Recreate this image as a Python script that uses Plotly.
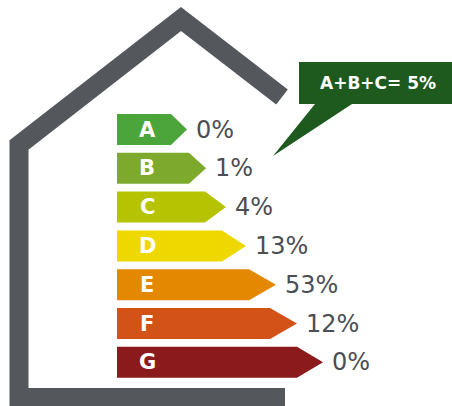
import plotly.graph_objects as go

# ---- data ----
categories = ["A", "B", "C", "D", "E", "F", "G"]
shares = [0, 1, 4, 13, 53, 12, 0]          # percent of dwellings per class
combined_classes = ["A", "B", "C"]

# ---- styling / layout ----
colors = ["#4ba53a", "#7daa2d", "#b5c300", "#efd800", "#e38800", "#d35217", "#8a1a1b"]
arrow_tip_x = [187, 206, 226, 246, 276, 297, 323]
arrow_depth = [16, 17, 21, 24, 27, 27, 26]
W, H = 452, 406
x0 = 117
y_first, step, half_h = 129.5, 38.8, 15.5
house_gray = "#54575c"
text_gray = "#4b4e53"
callout_green = "#1e5a1e"
FONT = "DejaVu Sans"

fig = go.Figure()

# house outline
fig.add_shape(type="path",
              path="M 282 97 L 181 19 L 19 145 L 19 397.5 L 285 397.5",
              line=dict(color=house_gray, width=19), layer="below")

# callout box + pointer
fig.add_shape(type="path",
              path="M 299 62 L 460 62 L 460 104 L 352 104 L 273 156 L 315 104 L 299 104 Z",
              fillcolor=callout_green, line=dict(width=0))

annotations = []
for i, (cat, val) in enumerate(zip(categories, shares)):
    yc = y_first + i * step
    top, bot = yc - half_h, yc + half_h
    tip = arrow_tip_x[i]
    body = tip - arrow_depth[i]
    fig.add_trace(go.Scatter(
        x=[x0, body, tip, body, x0, x0],
        y=[top, top, yc, bot, bot, top],
        mode="lines", fill="toself", fillcolor=colors[i],
        line=dict(width=0, color=colors[i]), hoverinfo="skip", showlegend=False))
    annotations.append(dict(x=147, y=yc, text=cat, showarrow=False,
                            xanchor="center", yanchor="middle",
                            font=dict(family=FONT, size=21, color="white", weight="bold")))
    annotations.append(dict(x=tip + 7, y=yc, text=f"{val}%", showarrow=False,
                            xanchor="left", yanchor="middle",
                            font=dict(family=FONT, size=24, color=text_gray)))

combined = sum(s for c, s in zip(categories, shares) if c in combined_classes)
annotations.append(dict(x=378, y=83, text=f"{'+'.join(combined_classes)}= {combined}%",
                        showarrow=False, xanchor="center", yanchor="middle",
                        font=dict(family=FONT, size=17, color="white", weight="bold")))

fig.update_layout(
    width=W, height=H,
    margin=dict(l=0, r=0, t=0, b=0),
    paper_bgcolor="white", plot_bgcolor="white",
    xaxis=dict(range=[0, W], visible=False, fixedrange=True),
    yaxis=dict(range=[H, 0], visible=False, fixedrange=True),
    annotations=annotations,
    showlegend=False,
)

fig.write_html("out.html", config={"displayModeBar": False})
